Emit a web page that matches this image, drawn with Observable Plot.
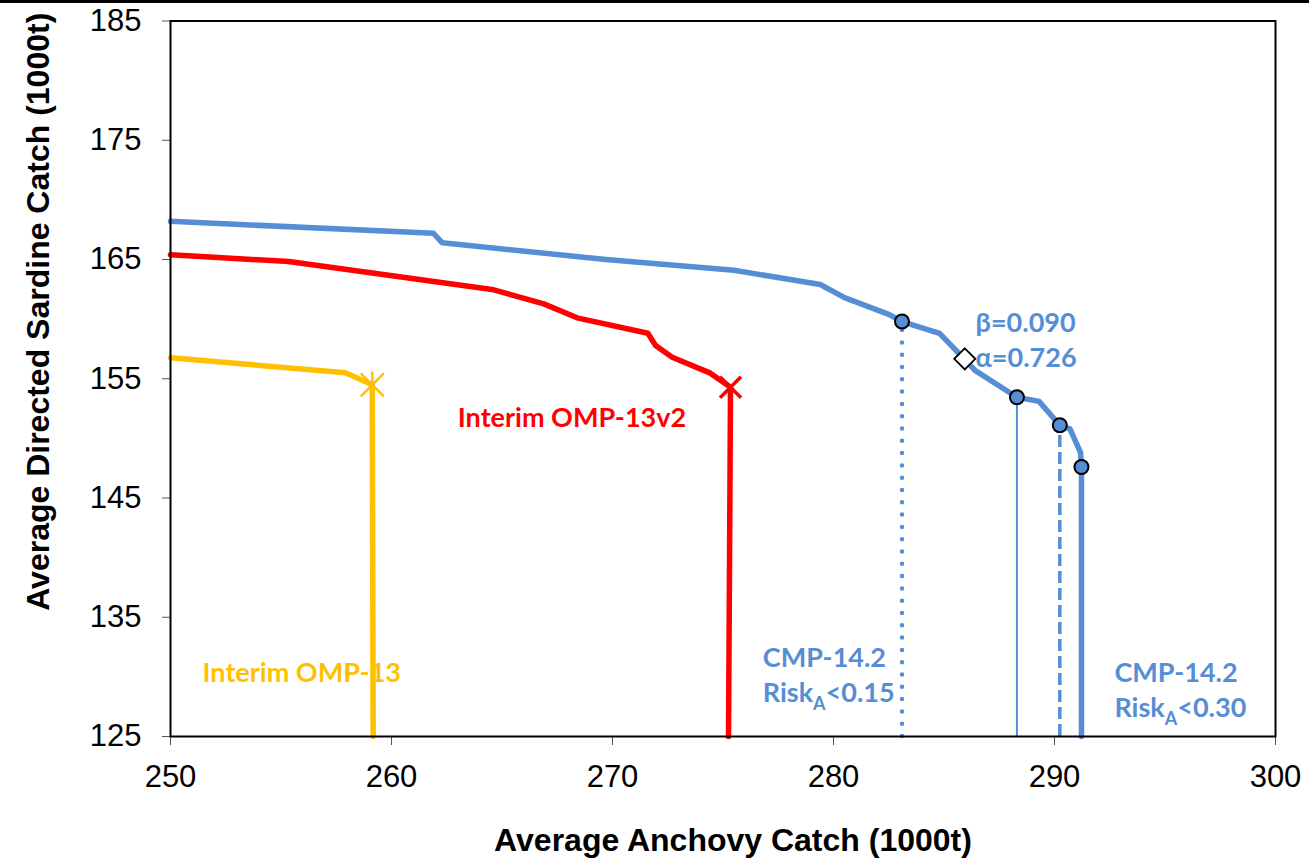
<!DOCTYPE html>
<html><head><meta charset="utf-8">
<script src="https://cdn.jsdelivr.net/npm/d3@7"></script>
<script src="https://cdn.jsdelivr.net/npm/@observablehq/plot@0.6"></script>
<style>
html,body{margin:0;padding:0;background:#fff;}
#wrap{position:relative;width:1309px;height:858px;overflow:hidden;}
#topline{position:absolute;left:0;top:0;width:1309px;height:3px;background:#000;}
</style></head><body><div id="wrap"><div id="topline"></div></div>
<script>
// ---- data ----
const xTicks = [250, 260, 270, 280, 290, 300];
const yTicks = [125, 135, 145, 155, 165, 175, 185];
const xTitle = "Average Anchovy Catch (1000t)";
const yTitle = "Average Directed Sardine Catch (1000t)";

// CMP-14.2 trade-off curve (blue)
const cmpX = [250, 261.9, 262.3, 269.7, 275.5, 279.4, 280.5, 282.5, 283.1, 284.8, 285.9, 286.4, 288.3, 289.3, 290.24, 290.7, 291.18, 291.22, 291.22];
const cmpY = [168.2, 167.2, 166.4, 165.0, 164.1, 162.9, 161.8, 160.4, 159.8, 158.8, 156.7, 155.7, 153.45, 153.1, 151.1, 150.8, 148.8, 147.6, 125];
// highlighted points on the CMP curve
const cmpDotX = [283.1, 288.3, 290.24, 291.22];
const cmpDotY = [159.8, 153.45, 151.1, 147.6];
const cmpDotStyle = ["dotted", "solid", "dashed", "curve"];
// beta / alpha choice
const diamondX = [285.94];
const diamondY = [156.67];

// Interim OMP-13v2 (red)
const redX = [250, 255.35, 264.63, 266.89, 268.4, 271.6, 271.95, 272.7, 274.43, 275.34, 275.25];
const redY = [165.4, 164.83, 162.46, 161.28, 160.11, 158.82, 157.79, 156.81, 155.47, 154.29, 125];
const redMarkX = [275.34], redMarkY = [154.29];

// Interim OMP-13 (yellow)
const yelX = [250, 257.92, 259.13, 259.17];
const yelY = [156.76, 155.5, 154.49, 125];
const yelMarkX = [259.13], yelMarkY = [154.49];

// annotations
const annText = ["Interim OMP-13v2", "Interim OMP-13", "CMP-14.2\nRisk_A<0.15", "CMP-14.2\nRisk_A<0.30", "β=0.090\nα=0.726"];
const annX = [263.0, 251.45, 276.8, 292.71, 286.43];
const annY = [151.9, 130.5, 130.33, 129.07, 158.42];

// ---- build ----
const BLUE = "#558ED5", RED = "#FF0000", YEL = "#FFC000";
const pts = (xs, ys) => xs.map((x, i) => ({x, y: ys[i]}));
const cmp = pts(cmpX, cmpY), red = pts(redX, redY), yel = pts(yelX, yelY);
const dots = cmpDotX.map((x, i) => ({x, y: cmpDotY[i], s: cmpDotStyle[i]}));
const ann = annText.map((t, i) => ({text: t, x: annX[i], y: annY[i]}));

const xSym = {draw(ctx, size) { const r = Math.sqrt(size / Math.PI); ctx.moveTo(-r, -r); ctx.lineTo(r, r); ctx.moveTo(-r, r); ctx.lineTo(r, -r); }};
const starSym = {draw(ctx, size) { const r = Math.sqrt(size / Math.PI); ctx.moveTo(-r, -r); ctx.lineTo(r, r); ctx.moveTo(-r, r); ctx.lineTo(r, -r); ctx.moveTo(0, -r * 1.15); ctx.lineTo(0, r * 1.15); }};

const annFont = {fontFamily: "Lato, 'Open Sans', sans-serif", fontWeight: "bold", fontSize: 27, textAnchor: "start", lineHeight: 1.3};

const chart = Plot.plot({
  width: 1309, height: 858,
  marginLeft: 170, marginRight: 34, marginTop: 20.5, marginBottom: 122,
  x: {domain: [250, 300]},
  y: {domain: [125, 185]},
  style: {fontFamily: "'Liberation Sans', Arial, sans-serif", background: "transparent", overflow: "visible", color: "black"},
  marks: [
    Plot.axisX({ticks: xTicks, tickSize: 9, tickPadding: 19, fontSize: 31, label: null, stroke: "#555", tickFormat: d => String(d)}),
    Plot.axisY({ticks: yTicks, tickSize: 8, tickPadding: 21, fontSize: 31, label: null, stroke: "#555", tickFormat: d => String(d)}),
    Plot.text([xTitle], {frameAnchor: "bottom", text: d => d, textAnchor: "middle", dx: 10, dy: 104, fontSize: 32, fontWeight: "bold", lineAnchor: "middle", fill: "black"}),
    Plot.text([yTitle], {frameAnchor: "left", text: d => d, textAnchor: "middle", rotate: -90, dx: -132, dy: -67, fontSize: 32, fontWeight: "bold", lineAnchor: "middle", fill: "black"}),
    // vertical reference lines
    Plot.ruleX(dots.filter(d => d.s === "dotted"), {x: "x", y1: 125, y2: "y", stroke: BLUE, strokeWidth: 4.5, strokeDasharray: "0,12.3", strokeLinecap: "round"}),
    Plot.ruleX(dots.filter(d => d.s === "solid"), {x: "x", y1: 125, y2: "y", stroke: BLUE, strokeWidth: 2}),
    Plot.ruleX(dots.filter(d => d.s === "dashed"), {x: "x", y1: 125, y2: "y", stroke: BLUE, strokeWidth: 3.5, strokeDasharray: "12,5"}),
    // curves
    Plot.line(yel, {x: "x", y: "y", stroke: YEL, strokeWidth: 5.5}),
    Plot.line(red, {x: "x", y: "y", stroke: RED, strokeWidth: 5.5}),
    Plot.line(cmp, {x: "x", y: "y", stroke: BLUE, strokeWidth: 5.5}),
    // markers
    Plot.dot(pts(yelMarkX, yelMarkY), {x: "x", y: "y", symbol: starSym, r: 11.5, stroke: YEL, strokeWidth: 2.5, fill: "none"}),
    Plot.dot(pts(redMarkX, redMarkY), {x: "x", y: "y", symbol: xSym, r: 10.5, stroke: RED, strokeWidth: 3.5, fill: "none"}),
    Plot.dot(dots, {x: "x", y: "y", r: 7, fill: BLUE, stroke: "black", strokeWidth: 2}),
    Plot.dot(pts(diamondX, diamondY), {x: "x", y: "y", symbol: "diamond2", r: 9.5, fill: "white", stroke: "black", strokeWidth: 1.8}),
    // annotations
    Plot.text(ann.slice(0, 1), {x: "x", y: "y", text: "text", fill: RED, ...annFont}),
    Plot.text(ann.slice(1, 2), {x: "x", y: "y", text: "text", fill: YEL, ...annFont}),
    Plot.text(ann.slice(2), {x: "x", y: "y", text: "text", fill: BLUE, ...annFont}),
    Plot.frame({stroke: "black", strokeWidth: 2})
  ]
});

// subscript "A" in Risk_A
chart.querySelectorAll("tspan, text").forEach(node => {
  if (node.children.length === 0 && node.textContent.startsWith("Risk_A")) {
    const rest = node.textContent.slice(6);
    node.textContent = "Risk";
    const ns = "http://www.w3.org/2000/svg";
    const sub = document.createElementNS(ns, "tspan");
    sub.setAttribute("font-size", "18");
    sub.setAttribute("dy", "8");
    sub.textContent = "A";
    const tail = document.createElementNS(ns, "tspan");
    tail.setAttribute("dy", "-8");
    tail.textContent = rest;
    node.appendChild(sub);
    node.appendChild(tail);
  }
});

const wrap = document.getElementById("wrap");
wrap.insertBefore(chart, wrap.firstChild);
chart.style.position = "absolute";
chart.style.left = "0"; chart.style.top = "0";
</script>
</body></html>
